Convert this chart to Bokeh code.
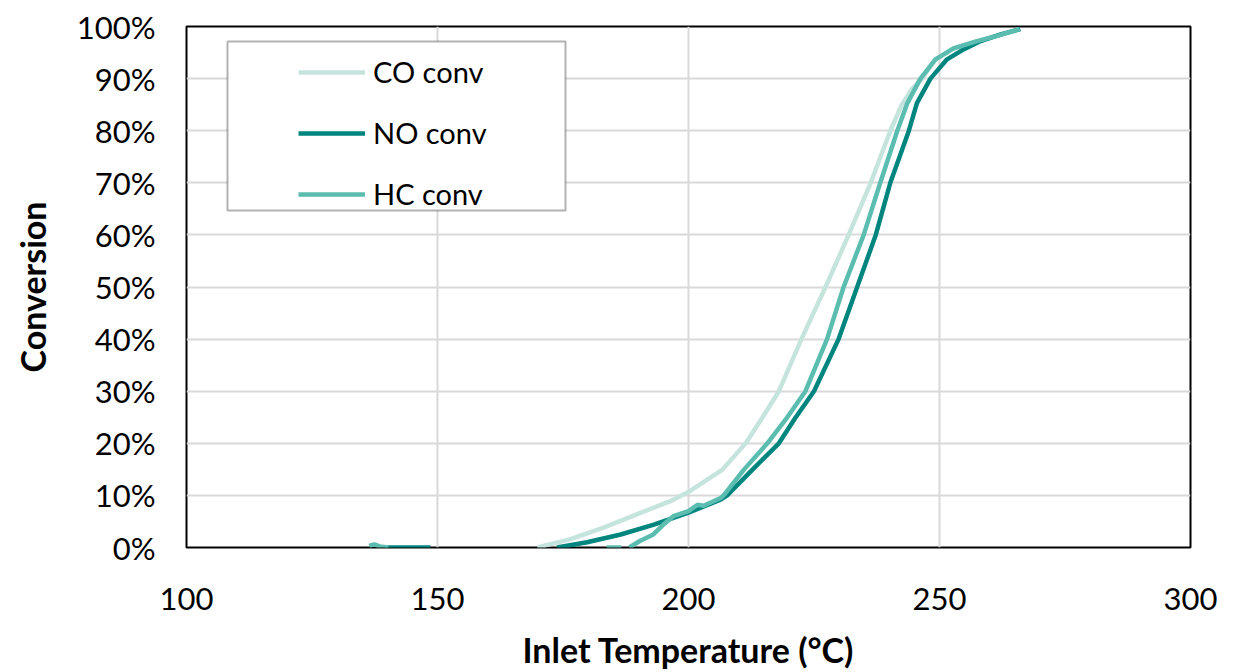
import numpy as np
from bokeh.plotting import figure
from bokeh.models import (Legend, LegendItem, BoxAnnotation, FixedTicker,
                          PrintfTickFormatter, Range1d)
from bokeh.embed import file_html
from bokeh.resources import INLINE

nan = float("nan")

# ---- data ----
co_temp = [169.9, 176.5, 183.1, 189.8, 196.4, 200.4, 206.7, 211.4, 214.7, 218.0,
           222.5, 227.3, 231.9, 236.3, 240.2, 242.5, 244.5, 246.5, 249.2, 252.8,
           257.5, 261.5, 266.0]
co_conv = [0, 1.6, 3.8, 6.4, 8.9, 10.9, 14.9, 20, 24.9, 30,
           40, 50, 60, 70, 80, 85, 88, 90, 93.7, 95.8,
           97.2, 98.2, 99.5]

no_temp = [139.5, 148.6, nan, 173.8, 179.8, 186.5, 193.1, 200.0, 206.4, 207.7,
           212.7, 218.0, 221.3, 225.0, 229.9, 233.6, 237.3, 240.2, 243.9, 245.5,
           248.2, 251.5, 254.8, 258.2, 262.2, 266.1]
no_conv = [0, 0, nan, 0, 1.0, 2.5, 4.4, 6.7, 9.2, 10.0,
           14.9, 20, 24.9, 30, 40, 50, 60, 70, 80, 85.3,
           90, 93.7, 95.6, 97.2, 98.5, 99.5]

hc_temp = [136.4, 137.4, 138.5, 140.2, nan, 183.7, 186.6, nan, 188.2, 190.4,
           193.0, 195.0, 197.0, 200.0, 201.8, 203.0, 206.4, 207.0, 211.0, 215.7,
           219.6, 223.3, 227.6, 230.9, 234.9, 238.2, 241.6, 243.6, 246.2, 249.2,
           252.8, 257.5, 261.5, 266.0]
hc_conv = [0.3, 0.6, 0.2, 0, nan, 0, 0, nan, 0, 1.3,
           2.5, 4.4, 6.0, 7.0, 8.2, 8.0, 9.5, 10.0, 14.9, 20,
           24.9, 30, 40, 50, 60, 70, 80, 85.3, 90, 93.7,
           95.8, 97.2, 98.2, 99.5]

series_names = ["CO conv", "NO conv", "HC conv"]
x_ticks = [100, 150, 200, 250, 300]
y_ticks = [0, 10, 20, 30, 40, 50, 60, 70, 80, 90, 100]

colors = ["#c6e4de", "#00857f", "#5bbdb0"]
FONT = "Lato"

p = figure(width=1240, height=672, output_backend="svg", toolbar_location=None,
           x_range=Range1d(100, 300), y_range=Range1d(0, 100),
           min_border_left=186, min_border_right=50, min_border_top=26,
           min_border_bottom=115)

p.outline_line_color = "black"
p.outline_line_width = 2
p.background_fill_color = "white"
p.border_fill_color = "white"

r_co = p.line(co_temp, co_conv, line_color=colors[0], line_width=4.5)
r_no = p.line(no_temp, no_conv, line_color=colors[1], line_width=4.5)
r_hc = p.line(hc_temp, hc_conv, line_color=colors[2], line_width=4.5)

# axes
for ax in (p.xaxis[0], p.yaxis[0]):
    ax.axis_line_color = None
    ax.major_tick_line_color = None
    ax.minor_tick_line_color = None
    ax.major_tick_out = 0
    ax.major_tick_in = 0
    ax.major_label_text_font = FONT
    ax.major_label_text_font_size = "31px"
    ax.major_label_text_color = "black"
    ax.axis_label_text_font = FONT
    ax.axis_label_text_font_size = "34px"
    ax.axis_label_text_font_style = "bold"
    ax.axis_label_text_color = "black"

p.xaxis.ticker = FixedTicker(ticks=x_ticks)
p.yaxis.ticker = FixedTicker(ticks=y_ticks)
p.yaxis.formatter = PrintfTickFormatter(format="%d%%")
p.xaxis.axis_label = "Inlet Temperature (°C)"
p.yaxis.axis_label = "Conversion"
p.xaxis.major_label_standoff = 40
p.yaxis.major_label_standoff = 31
p.xaxis.axis_label_standoff = 16
p.yaxis.axis_label_standoff = 21

p.xgrid.ticker = FixedTicker(ticks=x_ticks)
p.ygrid.ticker = FixedTicker(ticks=y_ticks)
for g in (p.xgrid[0], p.ygrid[0]):
    g.grid_line_color = "#d9d9d9"
    g.grid_line_width = 2

# legend frame
frame_box = BoxAnnotation(left=41, right=379, bottom=337, top=506,
                          left_units="screen", right_units="screen",
                          bottom_units="screen", top_units="screen",
                          fill_color="white", fill_alpha=1.0,
                          line_color="black", line_width=2)
p.add_layout(frame_box)

legend = Legend(items=[LegendItem(label=series_names[0], renderers=[r_co]),
                       LegendItem(label=series_names[1], renderers=[r_no]),
                       LegendItem(label=series_names[2], renderers=[r_hc])],
                location=(112, 336), padding=0, margin=0, spacing=26,
                glyph_width=67, glyph_height=30, label_height=30,
                label_standoff=8, label_text_font=FONT,
                label_text_font_size="29px", label_text_color="black",
                border_line_alpha=0, background_fill_alpha=0)
p.add_layout(legend)

open("out.html", "w").write(file_html(p, INLINE))
